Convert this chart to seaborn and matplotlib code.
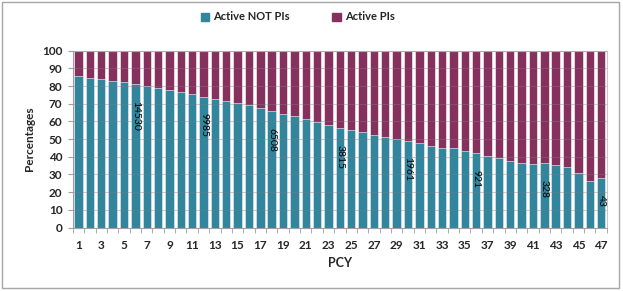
import numpy as np
import pandas as pd
import matplotlib.pyplot as plt
import seaborn as sns
from matplotlib.patches import Rectangle, Patch
from matplotlib.ticker import FixedLocator

# =========================
# DATA
# =========================
pcy = list(range(1, 48))
not_pi_pct = [85.8, 84.3, 83.8, 83.0, 82.3, 81.1, 80.2, 79.1, 77.9, 76.6,
              75.3, 74.0, 72.8, 71.3, 70.4, 69.0, 67.5, 65.9, 64.3, 62.9,
              61.3, 59.6, 58.0, 56.4, 55.1, 54.0, 52.5, 51.3, 49.8, 49.1,
              48.0, 46.2, 44.9, 44.9, 43.0, 42.3, 40.4, 39.5, 37.9, 36.6,
              35.9, 36.4, 35.3, 34.2, 30.6, 26.4, 27.9]
count_pcy = [6, 12, 18, 24, 30, 36, 42, 47]
count_vals = [14530, 9985, 6508, 3815, 1961, 921, 328, 43]

TEAL = "#31859c"
MAROON = "#86305e"

df = pd.DataFrame({"PCY": pcy, "NotPI": not_pi_pct})
df["PI"] = 100 - df["NotPI"]
df["Total"] = df["NotPI"] + df["PI"]

# =========================
# PLOT
# =========================
sns.set_style("white")
plt.rcParams["font.family"] = ["Lato", "DejaVu Sans"]

fig = plt.figure(figsize=(6.23, 2.91), dpi=100)
ax = fig.add_axes([0.117, 0.218, 0.857, 0.608])

sns.barplot(data=df, x="PCY", y="Total", color=MAROON, width=0.74,
            saturation=1, edgecolor="white", linewidth=0.4, ax=ax)
sns.barplot(data=df, x="PCY", y="NotPI", color=TEAL, width=0.74,
            saturation=1, edgecolor="white", linewidth=0.4, ax=ax)

# count labels inside the bars
for p, v in zip(count_pcy, count_vals):
    top = df.loc[df["PCY"] == p, "NotPI"].iloc[0]
    ax.text(pcy.index(p), top - 9.5, str(v), rotation=270, ha="center",
            va="top", fontsize=7.5, color="black")

ax.set_ylim(0, 100)
ax.set_xlim(-0.5, len(pcy) - 0.5)
ax.set_yticks(range(0, 101, 10))
ax.set_xticks(range(len(pcy)))
ax.set_xticklabels([str(p) if p % 2 == 1 else "" for p in pcy])
ax.xaxis.set_minor_locator(FixedLocator(np.arange(-0.5, len(pcy), 1.0)))
ax.tick_params(axis="y", labelsize=8.5, length=3.5, color="#a0a0a0",
               direction="out", left=True, pad=4)
ax.tick_params(axis="x", which="major", labelsize=8.5, length=0, pad=9)
ax.tick_params(axis="x", which="minor", length=3.5, color="#a0a0a0",
               direction="out", bottom=True)
for lab in ax.get_xticklabels() + ax.get_yticklabels():
    lab.set_fontweight("bold")

ax.yaxis.grid(True, color="#7f7f7f", linewidth=0.6, alpha=0.45)
ax.set_axisbelow(False)

ax.set_xlabel("PCY", fontsize=9, fontweight="bold", labelpad=4)
ax.set_ylabel("Percentages", fontsize=8.5, fontweight="bold", labelpad=5)

for side in ["top", "right"]:
    ax.spines[side].set_color("#c8c8c8")
    ax.spines[side].set_linewidth(0.8)
for side in ["left", "bottom"]:
    ax.spines[side].set_color("#a0a0a0")
    ax.spines[side].set_linewidth(0.8)

handles = [Patch(color=TEAL, label="Active NOT PIs"),
           Patch(color=MAROON, label="Active PIs")]
fig.legend(handles=handles, loc="upper center", bbox_to_anchor=(0.478, 0.995),
           ncol=2, frameon=False, handlelength=0.75, handleheight=0.75,
           handletextpad=0.4, columnspacing=3.8,
           prop={"weight": "bold", "size": 8})

fig.patches.append(Rectangle((0.004, 0.01), 0.99, 0.983, transform=fig.transFigure,
                             fill=False, edgecolor="#a6a6a6", linewidth=1))

fig.savefig("out.png", dpi=100)
